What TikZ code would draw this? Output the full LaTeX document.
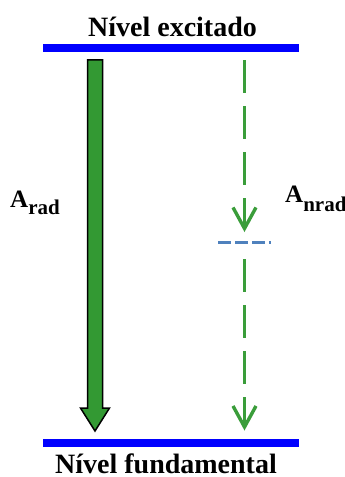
\documentclass[tikz,border=0pt]{standalone}
\usepackage{fontspec}
\setmainfont{Liberation Serif}[BoldFont={Liberation Serif Bold}]
\newfontfamily\boldserif{Liberation Serif Bold}
\usetikzlibrary{arrows.meta}
\definecolor{levelblue}{HTML}{0000FF}
\definecolor{radgreen}{HTML}{339933}
\definecolor{nradgreen}{HTML}{3A9D3A}
\definecolor{midblue}{HTML}{4F81BD}
\tikzset{
  level/.style={draw=levelblue, line width=8pt},
  title/.style={anchor=base, inner sep=0pt, font=\boldserif\fontsize{28}{28}\selectfont},
  rate/.style={anchor=base west, inner sep=0pt, font=\boldserif\fontsize{25}{25}\selectfont},
  nradarrow/.style={draw=nradgreen, line width=3.4pt, dash pattern=on 33pt off 13pt,
    -{Straight Barb[length=21pt, width=23pt, line width=3.4pt]}},
  midlevel/.style={draw=midblue, line width=3pt, dash pattern=on 12.5pt off 4.5pt},
}
\begin{document}
\begin{tikzpicture}[x=1pt, y=-1pt]
  \useasboundingbox (0,0) rectangle (345,477);

  % energy levels
  \coordinate (exL) at (43,47.5);
  \coordinate (exR) at (299,47.5);
  \coordinate (gdL) at (43,443);
  \coordinate (gdR) at (299,443);
  \draw[level] (exL) -- (exR);
  \draw[level] (gdL) -- (gdR);

  \node[title] (excited) at (172.5,36) {Nível excitado};
  \node[title] (ground) at (166,473.5) {Nível fundamental};

  % radiative decay: wide block arrow
  \draw[fill=radgreen, draw=black, line width=1.5pt, line join=miter]
    (87.5,59.8) -- (102.5,59.8) -- (102.5,408) -- (109.5,408) -- (95,431)
    -- (80.5,408) -- (87.5,408) -- cycle;

  % non-radiative decay through an intermediate level
  \coordinate (n1s) at (244.5,60);
  \coordinate (n1e) at (244.5,232);
  \coordinate (n2s) at (244.5,259);
  \coordinate (n2e) at (244.5,430.5);
  \draw[nradarrow] (n1s) -- (n1e);
  \draw[nradarrow] (n2s) -- (n2e);

  \coordinate (midL) at (218,242);
  \coordinate (midR) at (271,242);
  \draw[midlevel] (midL) -- (midR);

  % rate labels
  \node[rate] (arad) at (10,207) {A\raisebox{-7.5pt}{\fontsize{21}{21}\selectfont rad}};
  \node[rate] (anrad) at (285,202) {A\raisebox{-9.5pt}{\fontsize{21}{21}\selectfont nrad}};
\end{tikzpicture}
\end{document}
